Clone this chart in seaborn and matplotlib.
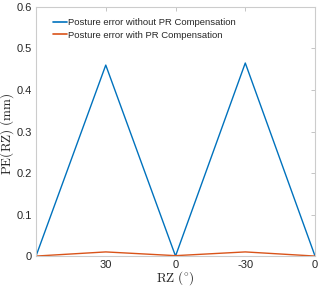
import matplotlib
matplotlib.use("Agg")
import matplotlib.pyplot as plt
import seaborn as sns
import pandas as pd
import numpy as np

x_labels = ["", "30", "0", "-30", "0"]
pe_without = [0.0, 0.46, 0.0, 0.465, 0.0]
pe_with = [0.0, 0.010, 0.001, 0.010, 0.0]
series_names = ["Posture error without PR Compensation", "Posture error with PR Compensation"]
colors = ["#0072BD", "#D95319"]

sns.set_theme(style="white")
plt.rcParams['font.family'] = ['Liberation Sans', 'DejaVu Sans']
plt.rcParams['mathtext.fontset'] = 'cm'

idx = list(range(len(pe_without)))
df = pd.DataFrame({
    "pos": idx * 2,
    "PE": pe_without + pe_with,
    "series": [series_names[0]] * len(idx) + [series_names[1]] * len(idx),
})

fig = plt.figure(figsize=(3.2, 2.9), dpi=100)
ax = fig.add_axes([0.1125, 0.117, 0.872, 0.859])
sns.lineplot(data=df, x="pos", y="PE", hue="series", palette=colors, ax=ax, linewidth=1.0)

ax.set_xlim(0, 4)
ax.set_ylim(0, 0.6)
ax.set_xticks(idx)
ax.set_xticklabels(x_labels)
ax.set_yticks([0, 0.1, 0.2, 0.3, 0.4, 0.5, 0.6])
ax.set_yticklabels(["0", "0.1", "0.2", "0.3", "0.4", "0.5", "0.6"])
ax.tick_params(axis="both", direction="in", length=3, width=0.6, color="#bbbbbb",
               labelsize=8, labelcolor="#262626", top=True, right=True,
               labeltop=False, labelright=False, pad=3)
for s in ax.spines.values():
    s.set_visible(True)
    s.set_color("#cccccc")
    s.set_linewidth(0.8)

ax.set_xlabel(r"$\mathrm{RZ\ (^{\circ})}$", fontsize=9.5, color="#262626", va="center")
ax.set_ylabel(r"$\mathrm{PE(RZ)\ (mm)}$", fontsize=9.5, color="#262626", va="center")
ax.xaxis.set_label_coords(0.5, -0.088)
ax.yaxis.set_label_coords(-0.102, 0.49)

leg = ax.legend(loc="upper left", frameon=False, fontsize=6.8, handlelength=1.45,
                handletextpad=0.1, labelspacing=0.35, borderaxespad=0.4,
                bbox_to_anchor=(0.035, 0.985))
for h in leg.get_lines():
    h.set_linewidth(1.2)

fig.savefig("out.png", dpi=100)
